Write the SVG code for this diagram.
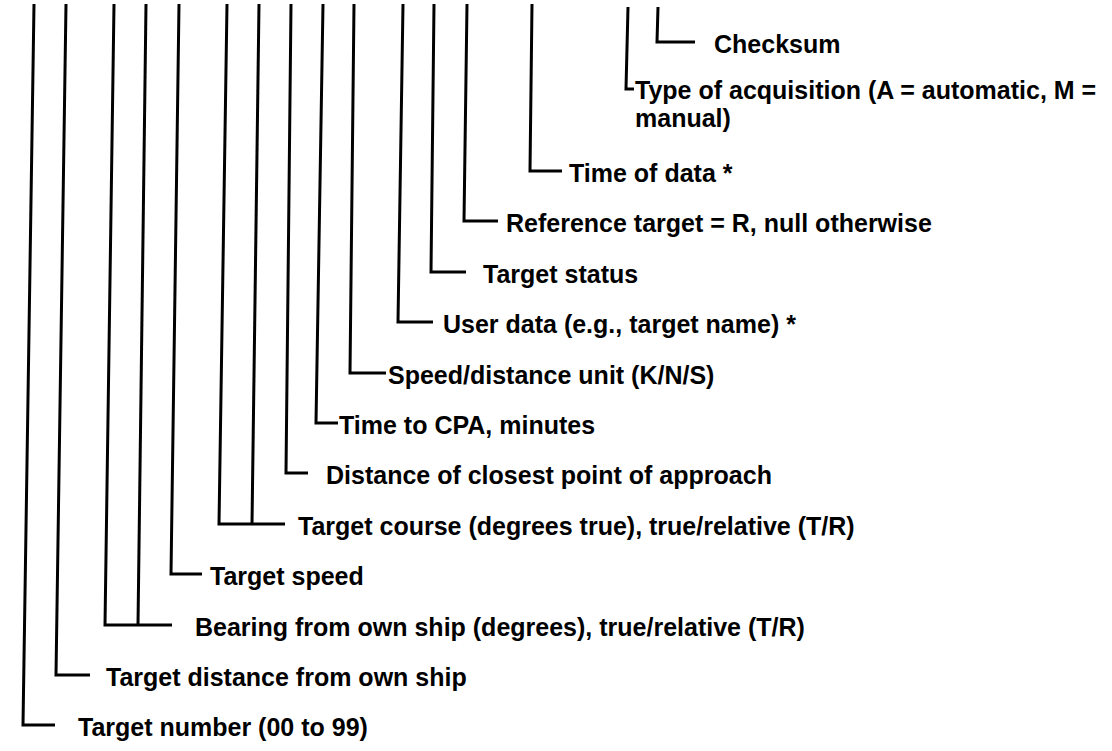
<svg xmlns="http://www.w3.org/2000/svg" width="1112" height="751" viewBox="0 0 1112 751">
<style>
.c{fill:none;stroke:#000;stroke-width:3;stroke-linejoin:miter;stroke-linecap:butt}
.t{font-family:"Liberation Sans",Arial,Helvetica,sans-serif;font-weight:bold;font-size:25px;fill:#000}
</style>
<rect width="1112" height="751" fill="#fff"/>
<g id="connectors">
<polyline class="c" points="658,7 657,42 695,42"/>
<polyline class="c" points="628,7 626,89 634,89"/>
<polyline class="c" points="532,4 530,171 562,171"/>
<polyline class="c" points="467,4 464,221 498,221"/>
<polyline class="c" points="434,4 431,272 466,272"/>
<polyline class="c" points="403,4 398,322 433,322"/>
<polyline class="c" points="354,4 350,373 386,373"/>
<polyline class="c" points="323,4 316,423 338,423"/>
<polyline class="c" points="291,4 286,473 308,473"/>
<polyline class="c" points="227,4 219,524 285,524"/>
<polyline class="c" points="259,4 252,524"/>
<polyline class="c" points="179,4 171,574 202,574"/>
<polyline class="c" points="114,4 105,625 172,625"/>
<polyline class="c" points="146,4 138,625"/>
<polyline class="c" points="66,4 56,675 90,675"/>
<polyline class="c" points="34,4 23,725 55,725"/>
</g>
<g id="checksum"><text class="t" x="714" y="53">Checksum</text></g>
<g id="acquisition"><text class="t" x="635" y="99">Type of acquisition (A = automatic, M =</text><text class="t" x="635" y="127">manual)</text></g>
<g id="time-of-data"><text class="t" x="569" y="182">Time of data *</text></g>
<g id="reference-target"><text class="t" x="506" y="232">Reference target = R, null otherwise</text></g>
<g id="target-status"><text class="t" x="483" y="283">Target status</text></g>
<g id="user-data"><text class="t" x="443" y="333">User data (e.g., target name) *</text></g>
<g id="speed-unit"><text class="t" x="388" y="384">Speed/distance unit (K/N/S)</text></g>
<g id="time-to-cpa"><text class="t" x="339" y="434">Time to CPA, minutes</text></g>
<g id="cpa-distance"><text class="t" x="326" y="484">Distance of closest point of approach</text></g>
<g id="target-course"><text class="t" x="298" y="535">Target course (degrees true), true/relative (T/R)</text></g>
<g id="target-speed"><text class="t" x="210" y="585">Target speed</text></g>
<g id="bearing"><text class="t" x="195" y="636">Bearing from own ship (degrees), true/relative (T/R)</text></g>
<g id="target-distance"><text class="t" x="106" y="686">Target distance from own ship</text></g>
<g id="target-number"><text class="t" x="78" y="736">Target number (00 to 99)</text></g>
</svg>
